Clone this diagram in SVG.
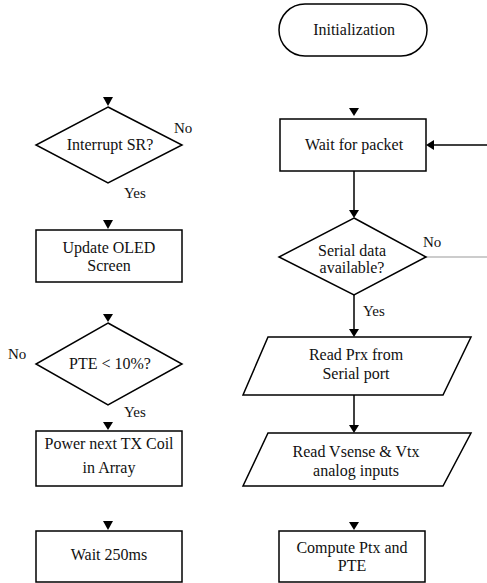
<svg xmlns="http://www.w3.org/2000/svg" width="487" height="583" viewBox="0 0 487 583">
<style>
.s{fill:#fff;stroke:#000;stroke-width:1.5}
.t{font-family:'Liberation Serif','Times New Roman','DejaVu Serif',serif;font-size:16px;fill:#111;text-anchor:middle}
.l{font-family:'Liberation Serif','Times New Roman','DejaVu Serif',serif;font-size:15px;fill:#111}
.c{fill:none;stroke:#000;stroke-width:1.5}
.g{fill:none;stroke:#999;stroke-width:1}
.a{fill:#000}
</style>
<rect width="487" height="583" fill="#fff"/>
<g id="connectors">
<line class="c" x1="354" y1="171" x2="354" y2="211"/>
<path class="a" d="M349,210 L359,210 L354,218 Z"/>
<line class="c" x1="354" y1="295" x2="354" y2="330"/>
<path class="a" d="M349,329 L359,329 L354,337 Z"/>
<line class="c" x1="354" y1="395" x2="354" y2="426"/>
<path class="a" d="M349,425 L359,425 L354,433 Z"/>
<line class="c" x1="487" y1="145" x2="434" y2="145"/>
<path class="a" d="M434,140 L434,150 L426,145 Z"/>
<line class="g" x1="426" y1="257" x2="487" y2="257"/>
<path class="a" d="M349,108 L359,108 L354,116 Z"/>
<path class="a" d="M349,522 L359,522 L354,530 Z"/>
<path class="a" d="M103,97 L113,97 L108,106 Z"/>
<path class="a" d="M103,220 L113,220 L108,229 Z"/>
<path class="a" d="M103,314 L113,314 L108,322 Z"/>
<path class="a" d="M103,422 L113,422 L108,430 Z"/>
<path class="a" d="M103,521 L113,521 L108,530 Z"/>
<text class="l" x="174" y="133">No</text>
<text class="l" x="124" y="198">Yes</text>
<text class="l" x="8" y="359">No</text>
<text class="l" x="124" y="417">Yes</text>
<text class="l" x="423" y="247">No</text>
<text class="l" x="363" y="316">Yes</text>
</g>
<g id="init">
<rect class="s" x="279" y="4" width="148" height="52" rx="26"/>
<text class="t" x="354" y="35">Initialization</text>
</g>
<g id="wait-packet">
<rect class="s" x="280" y="119" width="146" height="52"/>
<text class="t" x="354" y="150">Wait for packet</text>
</g>
<g id="serial">
<path class="s" d="M354,218 L426,257 L354,295 L279,257 Z"/>
<text class="t" x="352" y="256">Serial data</text>
<text class="t" x="352" y="273">available?</text>
</g>
<g id="read-prx">
<path class="s" d="M268,337 L471,337 L443,395 L243,395 Z"/>
<text class="t" x="356" y="360">Read Prx from</text>
<text class="t" x="356" y="379">Serial port</text>
</g>
<g id="read-v">
<path class="s" d="M268,433 L471,433 L443,486 L243,486 Z"/>
<text class="t" x="356" y="457">Read Vsense &amp; Vtx</text>
<text class="t" x="356" y="476">analog inputs</text>
</g>
<g id="compute">
<rect class="s" x="279" y="531" width="146" height="51"/>
<text class="t" x="352" y="553">Compute Ptx and</text>
<text class="t" x="352" y="571">PTE</text>
</g>
<g id="interrupt">
<path class="s" d="M108,107 L182,145 L108,183 L36,145 Z"/>
<text class="t" x="110" y="150">Interrupt SR?</text>
</g>
<g id="oled">
<rect class="s" x="36" y="230" width="146" height="52"/>
<text class="t" x="109" y="253">Update OLED</text>
<text class="t" x="109" y="271">Screen</text>
</g>
<g id="pte">
<path class="s" d="M108,323 L182,364 L108,405 L36,364 Z"/>
<text class="t" x="110" y="369">PTE &lt; 10%?</text>
</g>
<g id="power">
<rect class="s" x="36" y="431" width="146" height="55"/>
<text class="t" x="109" y="449">Power next TX Coil</text>
<text class="t" x="109" y="473">in Array</text>
</g>
<g id="wait250">
<rect class="s" x="36" y="531" width="146" height="51"/>
<text class="t" x="109" y="560">Wait 250ms</text>
</g>
</svg>
